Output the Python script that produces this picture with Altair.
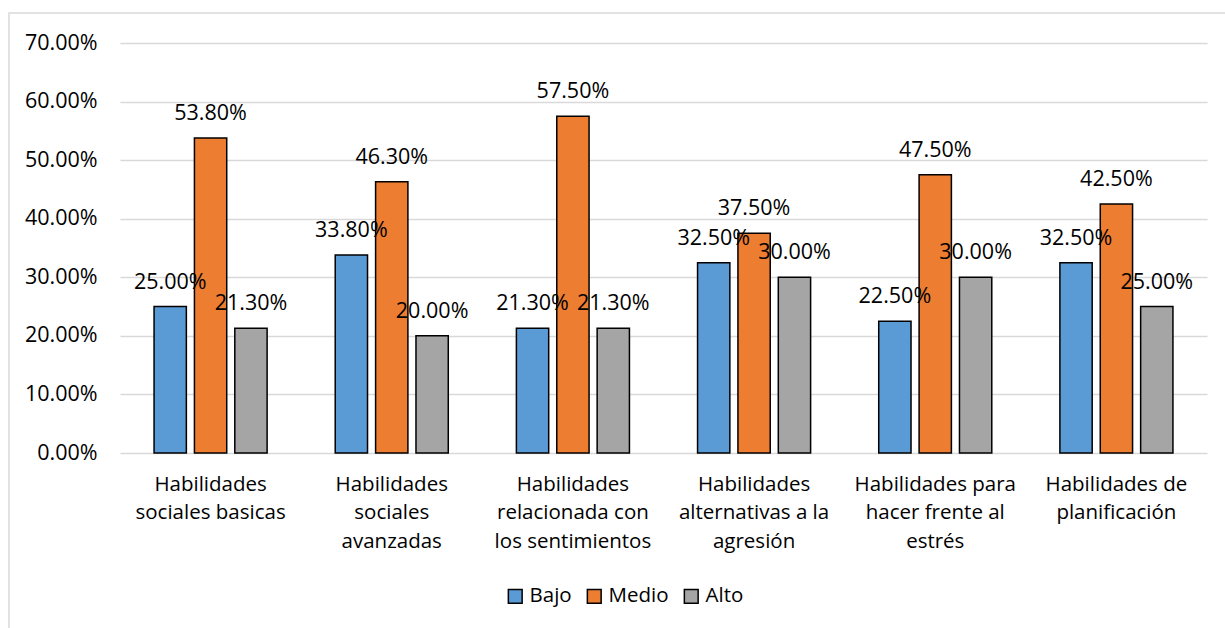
import altair as alt
import pandas as pd

# Skill categories ("|" marks a line break in the axis label)
categories = [
    "Habilidades|sociales basicas",
    "Habilidades|sociales|avanzadas",
    "Habilidades|relacionada con|los sentimientos",
    "Habilidades|alternativas a la|agresión",
    "Habilidades para|hacer frente al|estrés",
    "Habilidades de|planificación",
]
levels = ["Bajo", "Medio", "Alto"]
bajo = [0.250, 0.338, 0.213, 0.325, 0.225, 0.325]
medio = [0.538, 0.463, 0.575, 0.375, 0.475, 0.425]
alto = [0.213, 0.200, 0.213, 0.300, 0.300, 0.250]
colors = ["#5B9BD5", "#ED7D31", "#A5A5A5"]
y_ticks = [0.0, 0.1, 0.2, 0.3, 0.4, 0.5, 0.6, 0.7]

rows = []
for series, vals in zip(levels, [bajo, medio, alto]):
    for cat, v in zip(categories, vals):
        rows.append({"categoria": cat, "nivel": series, "valor": v})
df = pd.DataFrame(rows)

FONT = "Open Sans"
W, H = 1087, 410

x_enc = alt.X(
    "categoria:N",
    sort=categories,
    scale=alt.Scale(paddingInner=0.376, paddingOuter=0.188),
    axis=alt.Axis(
        title=None,
        labelExpr="split(datum.label, '|')",
        labelAngle=0,
        labelFont=FONT,
        labelFontSize=20.5,
        labelColor="#000000",
        labelLineHeight=28.5,
        labelPadding=21,
        labelBaseline="top",
        ticks=False,
        domain=False,
    ),
)
xoff_enc = alt.XOffset("nivel:N", sort=levels, scale=alt.Scale(paddingInner=0.2))
y_enc = alt.Y(
    "valor:Q",
    scale=alt.Scale(domain=[0, 0.7], nice=False),
    axis=alt.Axis(
        title=None,
        values=y_ticks,
        format=".2%",
        labelFont=FONT,
        labelFontSize=21.5,
        labelColor="#000000",
        labelPadding=23,
        ticks=False,
        domain=False,
        grid=True,
        gridColor="#D9D9D9",
        gridWidth=1.5,
    ),
)

base = alt.Chart(df)

bars = base.mark_bar(stroke="#000000", strokeWidth=1.5).encode(
    x=x_enc,
    xOffset=xoff_enc,
    y=y_enc,
    color=alt.Color(
        "nivel:N",
        sort=levels,
        scale=alt.Scale(domain=levels, range=colors),
        legend=alt.Legend(
            title=None,
            orient="none",
            direction="horizontal",
            legendX=385,
            legendY=543,
            symbolType="square",
            symbolSize=190,
            symbolStrokeColor="#000000",
            symbolStrokeWidth=1.5,
            labelFont=FONT,
            labelFontSize=20.5,
            labelColor="#000000",
            labelOffset=4,
            columnPadding=12,
        ),
    ),
)

labels = base.mark_text(
    font=FONT, fontSize=21.5, color="#000000", baseline="alphabetic", dy=-18
).encode(
    x=alt.X("categoria:N", sort=categories),
    xOffset=alt.XOffset("nivel:N", sort=levels),
    y=alt.Y("valor:Q"),
    text=alt.Text("valor:Q", format=".2%"),
)

frame = alt.Chart(alt.Data(values=[{}])).mark_rect(
    fill=None, stroke="#D9D9D9", strokeWidth=1.5
).encode(
    x=alt.value(-111), x2=alt.value(W + 40), y=alt.value(-30), y2=alt.value(H + 200)
)

chart = (
    alt.layer(frame, bars, labels)
    .properties(
        width=W,
        height=H,
        padding={"left": 120, "top": 43, "right": 18, "bottom": 175},
        autosize=alt.AutoSizeParams(type="none"),
        background="#FFFFFF",
    )
    .configure_view(stroke=None)
)

chart.save("out.html", embed_options={"renderer": "svg", "actions": False})
